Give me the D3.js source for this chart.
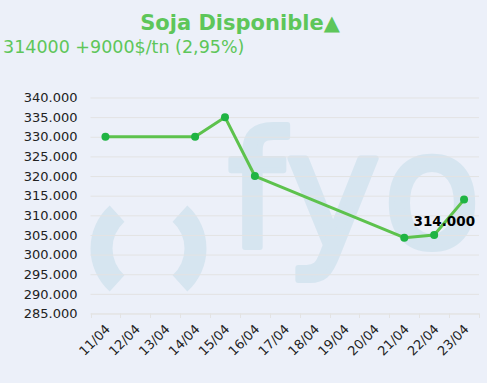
<!DOCTYPE html>
<html><head><meta charset="utf-8">
<script src="https://cdn.jsdelivr.net/npm/d3@7"></script>
<style>
html,body{margin:0;padding:0;background:#ecf0f9;}
svg{display:block;font-family:"DejaVu Sans",Verdana,sans-serif;}
</style></head>
<body>
<svg id="c" width="487" height="383"></svg>
<script>
const categories = ["11/04","12/04","13/04","14/04","15/04","16/04","17/04","18/04","19/04","20/04","21/04","22/04","23/04"];
const pointDates = ["11/04","14/04","15/04","16/04","21/04","22/04","23/04"];
const pointValues = [330000,330000,335000,320000,304300,305000,314000];
const yTicks = [285000,290000,295000,300000,305000,310000,315000,320000,325000,330000,335000,340000];
const titleText = "Soja Disponible▲";
const subtitleText = "314000 +9000$/tn (2,95%)";
const lastLabel = "314.000";
const watermarkLetters = ["f","y","o"];

const svg = d3.select("#c");
const W = 487, H = 383;
svg.append("rect").attr("width",W).attr("height",H).attr("fill","#ecf0f9");

const x = d3.scaleBand().domain(categories).range([90.5, 479]).padding(0);
const y = d3.scaleLinear().domain([285000,340000]).range([313.5, 97.5]);

// watermark
const wmColor = "#d6e5f0";
const wm = svg.append("g").attr("fill",wmColor);
const arc = d3.arc().innerRadius(36).outerRadius(58);
const deg = Math.PI/180;
wm.append("path").attr("transform","translate(148.5,248.5)")
  .attr("d", arc({startAngle:222*deg, endAngle:318*deg}));
wm.append("path").attr("transform","translate(148.5,248.5)")
  .attr("d", arc({startAngle:42*deg, endAngle:138*deg}));
const wmX = [256, 333, 432];
wm.selectAll("text.wm").data(watermarkLetters).join("text").attr("class","wm")
  .attr("x",(d,i)=>wmX[i]).attr("y",247).attr("font-size",160)
  .attr("text-anchor","middle")
  .attr("stroke",wmColor).attr("stroke-width",6).attr("stroke-linejoin","round")
  .attr("font-family","DejaVu Sans, sans-serif").text(d=>d);

// grid
const fmt = v => d3.format(",")(v).replace(/,/g,".");
const gy = svg.append("g").attr("transform","translate(90.5,0)")
  .call(d3.axisLeft(y).tickValues(yTicks).tickSize(-388.5).tickFormat(fmt));
gy.select(".domain").remove();
gy.selectAll(".tick line").attr("stroke","#e3e3e3").attr("stroke-width",1);
gy.selectAll(".tick text").attr("x",-13).attr("fill","#222")
  .attr("font-size",13).attr("font-family","DejaVu Sans, Verdana, sans-serif");

// x axis
const gx = svg.append("g").attr("transform","translate(0,313.5)")
  .call(d3.axisBottom(x).tickSize(0).tickFormat(d=>d));
gx.select(".domain").attr("stroke","#e3e3e3");
gx.selectAll(".tick text")
  .attr("font-size",13).attr("fill","#222")
  .attr("font-family","DejaVu Sans, Verdana, sans-serif")
  .attr("text-anchor","end")
  .attr("transform","translate(-1,10) rotate(-45)")
  .attr("dy","0.7em").attr("y",0).attr("x",0);
// tick marks at band boundaries
const bounds = categories.map(c=>x(c)).concat([x.range()[1]]);
svg.append("g").selectAll("line").data(bounds).join("line")
  .attr("x1",d=>Math.round(d)+0.5).attr("x2",d=>Math.round(d)+0.5)
  .attr("y1",313.5).attr("y2",318).attr("stroke","#e3e3e3");

// line
const pts = pointDates.map((d,i)=>({x:x(d)+x.bandwidth()/2, y:y(pointValues[i]), v:pointValues[i]}));
svg.append("path").datum(pts)
  .attr("d", d3.line().x(d=>d.x).y(d=>d.y))
  .attr("fill","none").attr("stroke","#5dc24d").attr("stroke-width",3)
  .attr("stroke-linejoin","round");
svg.append("g").selectAll("circle").data(pts).join("circle")
  .attr("cx",d=>d.x).attr("cy",d=>d.y).attr("r",4).attr("fill","#1fb443");

// data label
const lp = pts[pts.length-1];
svg.append("text").attr("x",lp.x+11).attr("y",lp.y+26)
  .attr("text-anchor","end").attr("font-weight","bold").attr("font-size",13.5)
  .attr("fill","#000").text(lastLabel);

// titles
svg.append("text").attr("x",240).attr("y",30).attr("text-anchor","middle")
  .attr("font-weight","bold").attr("font-size",21).attr("fill","#5ec65a").text(titleText);
svg.append("text").attr("x",3).attr("y",53)
  .attr("font-size",17.5).attr("fill","#5ec65a").text(subtitleText);
</script>
</body></html>
